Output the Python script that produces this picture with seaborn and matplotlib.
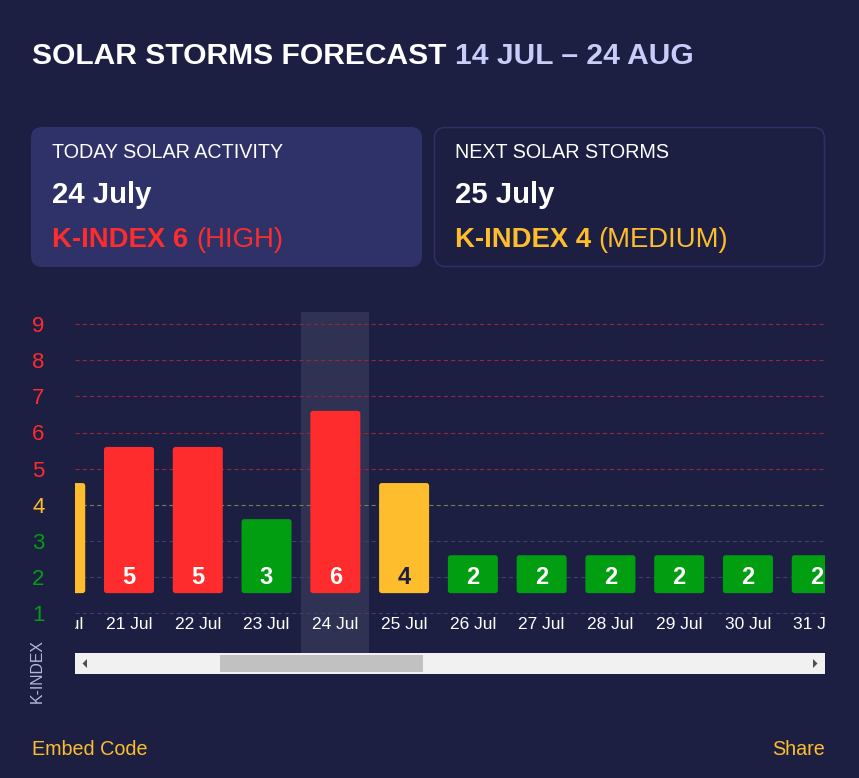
import matplotlib
matplotlib.use("Agg")
import matplotlib.pyplot as plt
import seaborn as sns
import pandas as pd
from matplotlib.patches import FancyBboxPatch, Rectangle, Polygon

days = ["20 Jul", "21 Jul", "22 Jul", "23 Jul", "24 Jul", "25 Jul",
        "26 Jul", "27 Jul", "28 Jul", "29 Jul", "30 Jul", "31 Jul"]
kindex = [4, 5, 5, 3, 6, 4, 2, 2, 2, 2, 2, 2]
today = "24 Jul"
yticks = [1, 2, 3, 4, 5, 6, 7, 8, 9]

BG = "#1c1f42"
CARD = "#2e3269"
RED = "#fe2c2c"
YELLOW = "#fdbd2d"
GREEN = "#029e12"
LAVENDER = "#c8ccf8"


def level_color(k):
    if k >= 5:
        return RED
    if k == 4:
        return YELLOW
    return GREEN


def grid_color(k):
    if k >= 5:
        return "#9c2439"
    if k == 4:
        return "#857a4c"
    return "#3b4073"


df = pd.DataFrame({"day": days, "k": kindex})
df["top"] = df["k"] - 0.95  # bars start at 1.55 and end 0.6 above the value

sns.set_theme(style="dark")
plt.rcParams["font.family"] = ["Liberation Sans", "DejaVu Sans"]
plt.rcParams["lines.scale_dashes"] = False

W, H = 859, 778
fig = plt.figure(figsize=(W / 100, H / 100), dpi=100, facecolor=BG)

# background layer in pixel coordinates
bg = fig.add_axes([0, 0, 1, 1])
bg.set_xlim(0, W)
bg.set_ylim(H, 0)
bg.axis("off")
bg.set_facecolor(BG)

# title
t1 = bg.text(32, 64, "SOLAR STORMS FORECAST ", color="white", fontsize=21.6,
             fontweight="bold", va="baseline", ha="left")
bg.annotate("14 JUL \u2013 24 AUG", xy=(1, 0), xycoords=t1, va="bottom",
            ha="left", color=LAVENDER, fontsize=21.6, fontweight="bold")

# cards
bg.add_patch(FancyBboxPatch((31, 127), 391, 140,
                            boxstyle="round,pad=0,rounding_size=11",
                            facecolor=CARD, edgecolor="none"))
bg.add_patch(FancyBboxPatch((434.5, 127.5), 390, 139,
                            boxstyle="round,pad=0,rounding_size=11",
                            facecolor=BG, edgecolor="#2b3066", lw=1.2))

cards = [
    (52, "TODAY SOLAR ACTIVITY", "24 July", "K-INDEX 6 ", "(HIGH)", RED),
    (455, "NEXT SOLAR STORMS", "25 July", "K-INDEX 4 ", "(MEDIUM)", YELLOW),
]
for x0, head, date, kbold, klevel, col in cards:
    bg.text(x0, 158, head, color="white", fontsize=14.25, va="baseline")
    bg.text(x0, 203, date, color="white", fontsize=21.2, fontweight="bold",
            va="baseline")
    kt = bg.text(x0, 247, kbold, color=col, fontsize=19.8, fontweight="bold",
                 va="baseline")
    bg.annotate(klevel, xy=(1, 0), xycoords=kt, va="bottom", ha="left",
                color=col, fontsize=19.8)

# y axis title and footer
bg.text(37.5, 671, "K-INDEX", rotation=90, color="#b4b9dc", fontsize=11.3,
        ha="center", va="center")
bg.text(32, 755, "Embed Code", color=YELLOW, fontsize=14.2, va="baseline")
bg.text(825, 755, "Share", color=YELLOW, fontsize=14.2, va="baseline",
        ha="right")

# scrollbar
bg.add_patch(Rectangle((75, 653), 750, 21, facecolor="#f1f1f1", edgecolor="none"))
bg.add_patch(Rectangle((220, 655), 203, 17, facecolor="#c1c1c1", edgecolor="none"))
bg.add_patch(Polygon([[82.5, 663.5], [87, 659], [87, 668]], closed=True,
                     facecolor="#505050", edgecolor="none"))
bg.add_patch(Polygon([[817.5, 663.5], [813, 659], [813, 668]], closed=True,
                     facecolor="#505050", edgecolor="none"))

# main chart
ax = fig.add_axes([75 / W, (H - 653) / H, 750 / W, (653 - 312) / H])
ax.set_facecolor("none")
for s in ax.spines.values():
    s.set_visible(False)

ti = days.index(today)
ax.axvspan(ti - 0.495, ti + 0.495, color="white", alpha=0.085, lw=0, zorder=0)

for k in yticks:
    ax.axhline(k, color=grid_color(k), lw=0.8, ls=(0, (3, 2.2)), zorder=1)

sns.barplot(data=df, x="day", y="top", hue="day", order=days, hue_order=days,
            palette=[level_color(k) for k in kindex], width=0.727,
            bottom=1.55, legend=False, ax=ax, zorder=2, linewidth=0,
            saturation=1)

# give the bars slightly rounded corners
for cont in ax.containers:
    for bar in cont:
        x, y = bar.get_xy()
        rb = FancyBboxPatch((x, y), bar.get_width(), bar.get_height(),
                            boxstyle="round,pad=0,rounding_size=0.04",
                            mutation_aspect=68.8 / 36.1,
                            facecolor=bar.get_facecolor(), edgecolor="none",
                            zorder=2)
        bar.set_visible(False)
        ax.add_patch(rb)

for i, (d, k) in enumerate(zip(days, kindex)):
    lc = BG if k == 4 else "white"
    ax.text(i, 1.80, str(k), color=lc, fontsize=17, fontweight="bold",
            ha="center", va="baseline", clip_on=True, zorder=3)
    ax.text(i, 0.557, d, color="white", fontsize=12.5, ha="center",
            va="baseline", clip_on=True, zorder=3)

ax.set_xlim(0.215, 11.12)
ax.set_ylim(1 - 40 / 36.1, 1 + 301 / 36.1)
ax.set_xticks([])
ax.set_xlabel("")
ax.set_ylabel("")
ax.set_yticks(yticks)
ax.set_yticklabels([str(k) for k in yticks], fontsize=16)
for lab, k in zip(ax.get_yticklabels(), yticks):
    lab.set_color(level_color(k))
ax.tick_params(axis="y", length=0, pad=22)
ax.grid(False)

fig.savefig("out.png", dpi=100, facecolor=BG)
